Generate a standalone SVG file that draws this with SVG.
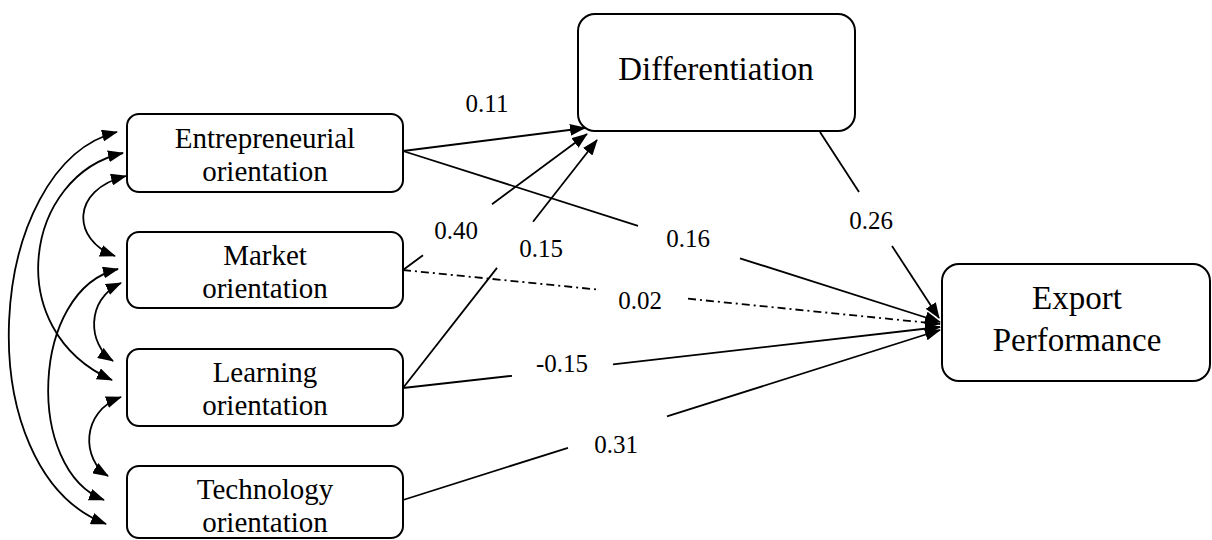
<svg xmlns="http://www.w3.org/2000/svg" width="1212" height="540" viewBox="0 0 1212 540">
<style>
.box{fill:#fff;stroke:#000;stroke-width:2}
.t{font-family:"Liberation Serif","Times New Roman",serif;fill:#000;text-anchor:middle}
.n{font-size:29px}
.b{font-size:33px}
.lab{font-size:25px}
.c{fill:none;stroke:#000;stroke-width:1.8}
.dd{stroke-dasharray:8 4 2 4}
</style>
<defs>
<marker id="ah" viewBox="0 0 16 12" refX="15" refY="6" markerWidth="16" markerHeight="12" markerUnits="userSpaceOnUse" orient="auto-start-reverse">
<path d="M0,0 L16,6 L0,12 Z" fill="#000"/>
</marker>
</defs>
<rect width="1212" height="540" fill="#fff"/>
<g id="connectors">
<g id="cov">
<path class="c" d="M117,132 C-15,165 -35,470 106,524" marker-start="url(#ah)" marker-end="url(#ah)"/>
<path class="c" d="M123,153 C25,175 0,330 112,380" marker-start="url(#ah)" marker-end="url(#ah)"/>
<path class="c" d="M118,269 C30,290 25,470 104,500" marker-start="url(#ah)" marker-end="url(#ah)"/>
<path class="c" d="M126,176 C70,190 72,240 115,256" marker-start="url(#ah)" marker-end="url(#ah)"/>
<path class="c" d="M121,283 C85,300 88,345 113,361" marker-start="url(#ah)" marker-end="url(#ah)"/>
<path class="c" d="M121,397 C80,412 82,460 108,476" marker-start="url(#ah)" marker-end="url(#ah)"/>
</g>
<g id="e-d"><path class="c" d="M403,151 L585,128" marker-end="url(#ah)"/></g>
<g id="m-d"><path class="c" d="M403,270 L423,255.2"/><path class="c" d="M492,204.2 L587,134" marker-end="url(#ah)"/></g>
<g id="l-d"><path class="c" d="M403,388 L497,267.9"/><path class="c" d="M533,221.8 L597,140" marker-end="url(#ah)"/></g>
<g id="e-x"><path class="c" d="M403,151 L638,225.8"/><path class="c" d="M740,258.3 L940,322" marker-end="url(#ah)"/></g>
<g id="m-x"><path class="c dd" d="M403,270 L596,289.4"/><path class="c dd" d="M688,298.7 L940,324" marker-end="url(#ah)"/></g>
<g id="l-x"><path class="c" d="M403,388 L512,375.8"/><path class="c" d="M613,364.3 L940,327" marker-end="url(#ah)"/></g>
<g id="t-x"><path class="c" d="M403,500 L568,447.8"/><path class="c" d="M667,416.4 L940,330" marker-end="url(#ah)"/></g>
<g id="d-x"><path class="c" d="M820,132 L859,192"/><path class="c" d="M892,246 L939,318" marker-end="url(#ah)"/></g>
<g id="labels">
<text class="t lab" x="487" y="112">0.11</text>
<text class="t lab" x="456" y="239">0.40</text>
<text class="t lab" x="541" y="257">0.15</text>
<text class="t lab" x="688" y="247">0.16</text>
<text class="t lab" x="871" y="229">0.26</text>
<text class="t lab" x="640" y="309">0.02</text>
<text class="t lab" x="562" y="372">-0.15</text>
<text class="t lab" x="616" y="453">0.31</text>
</g>
</g>
<g id="entrepreneurial">
<rect class="box" x="127" y="114" width="276" height="78" rx="12"/>
<text class="t n" x="265" y="148">Entrepreneurial</text>
<text class="t n" x="265" y="181">orientation</text>
</g>
<g id="market">
<rect class="box" x="127" y="232" width="276" height="76" rx="12"/>
<text class="t n" x="265" y="265">Market</text>
<text class="t n" x="265" y="298">orientation</text>
</g>
<g id="learning">
<rect class="box" x="127" y="349" width="276" height="77" rx="12"/>
<text class="t n" x="265" y="382">Learning</text>
<text class="t n" x="265" y="415">orientation</text>
</g>
<g id="technology">
<rect class="box" x="127" y="466" width="276" height="72" rx="12"/>
<text class="t n" x="265" y="499">Technology</text>
<text class="t n" x="265" y="532">orientation</text>
</g>
<g id="differentiation">
<rect class="box" x="578" y="14" width="277" height="117" rx="17"/>
<text class="t b" x="716" y="80">Differentiation</text>
</g>
<g id="export">
<rect class="box" x="942" y="264" width="268" height="117" rx="17"/>
<text class="t b" x="1077" y="309">Export</text>
<text class="t b" x="1077" y="351">Performance</text>
</g>
</svg>
